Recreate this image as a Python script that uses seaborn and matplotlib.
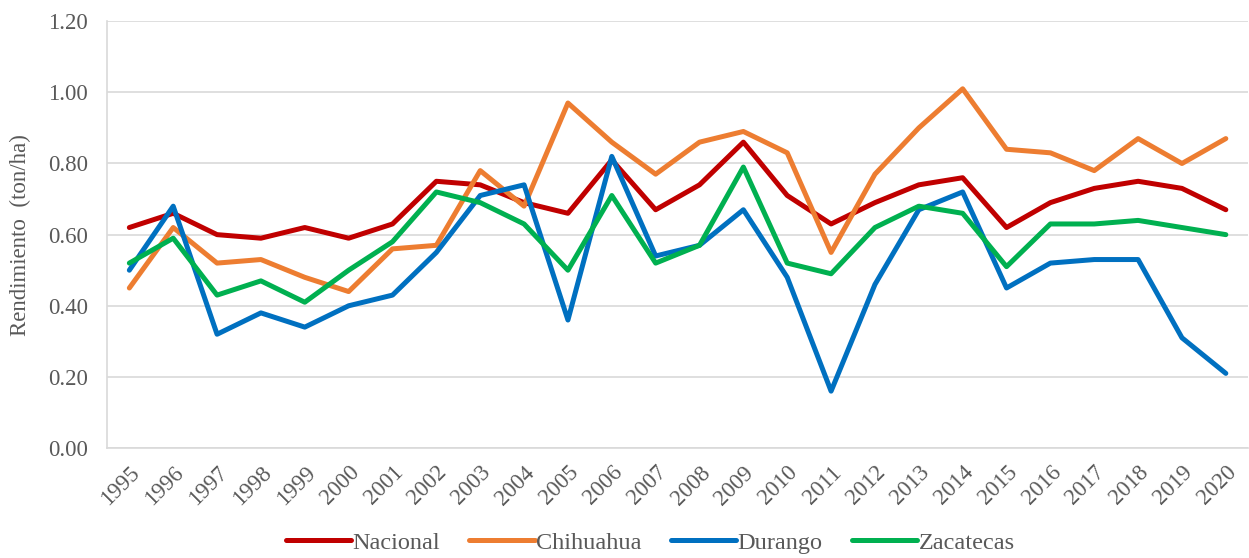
import pandas as pd
import matplotlib.pyplot as plt
import seaborn as sns

# Data
years = [str(y) for y in range(1995, 2021)]
nacional = [0.62, 0.66, 0.60, 0.59, 0.62, 0.59, 0.63, 0.75, 0.74, 0.69, 0.66, 0.81, 0.67,
            0.74, 0.86, 0.71, 0.63, 0.69, 0.74, 0.76, 0.62, 0.69, 0.73, 0.75, 0.73, 0.67]
chihuahua = [0.45, 0.62, 0.52, 0.53, 0.48, 0.44, 0.56, 0.57, 0.78, 0.68, 0.97, 0.86, 0.77,
             0.86, 0.89, 0.83, 0.55, 0.77, 0.90, 1.01, 0.84, 0.83, 0.78, 0.87, 0.80, 0.87]
durango = [0.50, 0.68, 0.32, 0.38, 0.34, 0.40, 0.43, 0.55, 0.71, 0.74, 0.36, 0.82, 0.54,
           0.57, 0.67, 0.48, 0.16, 0.46, 0.67, 0.72, 0.45, 0.52, 0.53, 0.53, 0.31, 0.21]
zacatecas = [0.52, 0.59, 0.43, 0.47, 0.41, 0.50, 0.58, 0.72, 0.69, 0.63, 0.50, 0.71, 0.52,
             0.57, 0.79, 0.52, 0.49, 0.62, 0.68, 0.66, 0.51, 0.63, 0.63, 0.64, 0.62, 0.60]
series = ['Nacional', 'Chihuahua', 'Durango', 'Zacatecas']
colors = ['#C00000', '#ED7D31', '#0070C0', '#00B050']

data = pd.DataFrame({'Año': years, 'Nacional': nacional, 'Chihuahua': chihuahua,
                     'Durango': durango, 'Zacatecas': zacatecas})
data = data.melt(id_vars='Año', var_name='Serie', value_name='Rendimiento')

sns.set_style('white')
plt.rcParams['font.family'] = ['Liberation Serif', 'DejaVu Serif']

fig, ax = plt.subplots(figsize=(12.49, 5.58), dpi=100)
fig.subplots_adjust(left=0.086, right=0.999, top=0.962, bottom=0.197)

sns.lineplot(data=data, x='Año', y='Rendimiento', hue='Serie', hue_order=series,
             palette=colors, linewidth=3.6, ax=ax, sort=False)

ax.set_ylim(0, 1.2)
ax.set_yticks([i * 0.2 for i in range(7)])
ax.set_yticklabels([f'{i * 0.2:.2f}' for i in range(7)], fontsize=16.5, color='#595959')
ax.set_xlim(-0.5, len(years) - 0.5)
ax.tick_params(axis='x', labelsize=16.5, labelcolor='#595959', rotation=45, length=0, pad=10)
ax.tick_params(axis='y', length=0, pad=14)
for lbl in ax.get_xticklabels():
    lbl.set_ha('right')
    lbl.set_rotation_mode('anchor')
ax.grid(axis='y', color='#D9D9D9', linewidth=1.2)
ax.set_axisbelow(True)
for s in ['top', 'right']:
    ax.spines[s].set_visible(False)
ax.spines['left'].set_color('#D9D9D9')
ax.spines['bottom'].set_color('#D9D9D9')
ax.spines['left'].set_linewidth(1.2)
ax.spines['bottom'].set_linewidth(1.2)

ax.set_xlabel('')
ax.set_ylabel('Rendimiento  (ton/ha)', fontsize=16.5, color='#595959')
ax.yaxis.set_label_coords(-0.0666, 0.5)

ax.legend(loc='center', bbox_to_anchor=(0.476, -0.222), ncol=4, frameon=False,
          fontsize=17.5, handlelength=2.7, handletextpad=0.05, columnspacing=1.2,
          labelcolor='#595959', borderpad=0.1)

plt.savefig('out.png', dpi=100)
